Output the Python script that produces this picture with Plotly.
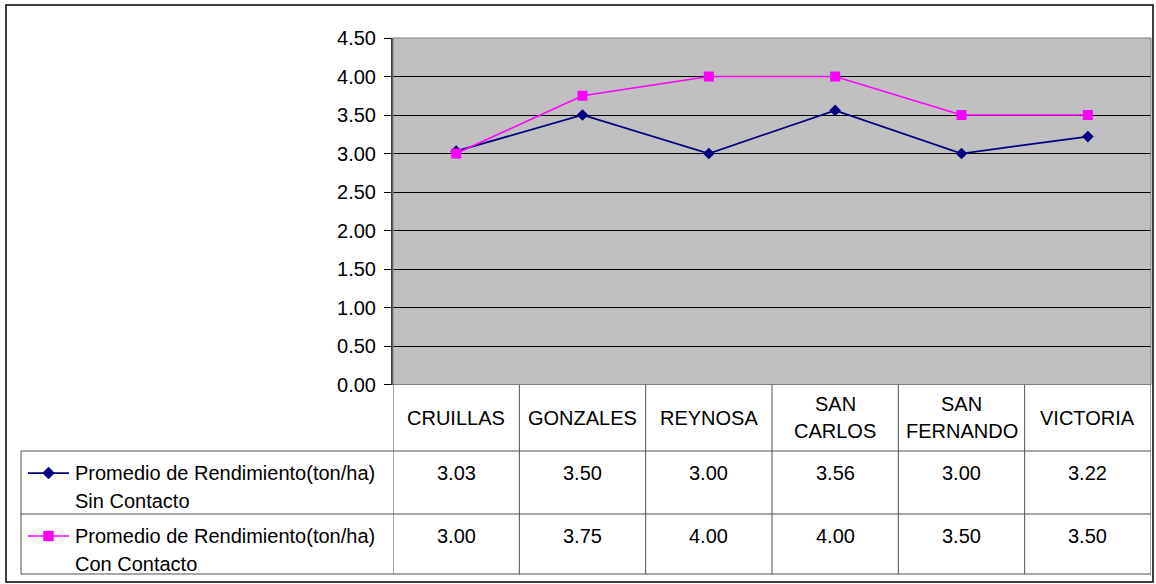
import plotly.graph_objects as go

# Yield averages (ton/ha) by municipality
categories = ["CRUILLAS", "GONZALES", "REYNOSA", "SAN CARLOS", "SAN FERNANDO", "VICTORIA"]
category_lines = [["CRUILLAS"], ["GONZALES"], ["REYNOSA"], ["SAN", "CARLOS"],
                  ["SAN", "FERNANDO"], ["VICTORIA"]]
sin_contacto = [3.03, 3.50, 3.00, 3.56, 3.00, 3.22]
con_contacto = [3.00, 3.75, 4.00, 4.00, 3.50, 3.50]
series_names = [
    ["Promedio de Rendimiento(ton/ha)", "Sin Contacto"],
    ["Promedio de Rendimiento(ton/ha)", "Con Contacto"],
]
y_ticks = [0.0, 0.5, 1.0, 1.5, 2.0, 2.5, 3.0, 3.5, 4.0, 4.5]

W, H = 1156, 584
FONT = "Liberation Sans, Arial, sans-serif"
FS = 20
TXT = dict(family=FONT, size=FS, color="black")


def px(x):
    return x / W


def py(y):
    return 1 - y / H


# plot-area box in pixels
PL, PR, PT, PB = 393, 1151, 38, 384.5
# table rows in pixels
ROW1_TOP, ROW2_TOP, TABLE_BOTTOM, TABLE_LEFT = 451, 514, 574, 21
LINE_GAP = 28

xs = list(range(len(categories)))
# (values, name, colour, symbol, marker size, key marker px, line width)
series = [
    (sin_contacto, series_names[0], "#000080", "diamond", 9, 12, 1.75),
    (con_contacto, series_names[1], "#FF00FF", "square", 10, 10, 1.5),
]

fig = go.Figure()
for vals, name, color, symbol, msize, kpx, lw in series:
    fig.add_trace(go.Scatter(
        x=xs, y=vals, name=" ".join(name), mode="lines+markers",
        line=dict(color=color, width=lw),
        marker=dict(symbol=symbol, size=msize, color=color),
        showlegend=False, cliponaxis=False,
    ))

shapes = []
annotations = []

# plot-area frame
shapes.append(dict(type="rect", xref="paper", yref="paper",
                   x0=px(PL), x1=px(PR), y0=py(PB), y1=py(PT),
                   line=dict(color="#808080", width=1), layer="above"))

# outer chart border
shapes.append(dict(type="rect", xref="paper", yref="paper",
                   x0=px(6), x1=px(1153), y0=py(582), y1=py(5),
                   line=dict(color="#000000", width=1.5)))

# data table: column separators at category boundaries
for i in range(len(categories) + 1):
    shapes.append(dict(type="line", xref="x", yref="paper",
                       x0=i - 0.5, x1=i - 0.5, y0=py(PB), y1=py(TABLE_BOTTOM),
                       line=dict(color="#505050", width=1)))
# horizontal row lines
for yrow in (ROW1_TOP, ROW2_TOP, TABLE_BOTTOM):
    shapes.append(dict(type="line", xref="paper", yref="paper",
                       x0=px(TABLE_LEFT), x1=px(PR), y0=py(yrow), y1=py(yrow),
                       line=dict(color="#505050", width=1)))
# left edge of legend column
shapes.append(dict(type="line", xref="paper", yref="paper",
                   x0=px(TABLE_LEFT), x1=px(TABLE_LEFT),
                   y0=py(ROW1_TOP), y1=py(TABLE_BOTTOM),
                   line=dict(color="#505050", width=1)))

# category header row
header_mid = (PB + ROW1_TOP) / 2
for i, lines in enumerate(category_lines):
    first = header_mid - (len(lines) - 1) * (LINE_GAP - 1) / 2
    for k, line in enumerate(lines):
        annotations.append(dict(x=i, y=py(first + k * (LINE_GAP - 1)), xref="x", yref="paper",
                                text=line, showarrow=False, xanchor="center",
                                yanchor="middle", font=TXT))


def key_marker_path(symbol, cx, cy, size):
    h = size / 2
    if symbol == "diamond":
        pts = [(cx, cy - h), (cx + h, cy), (cx, cy + h), (cx - h, cy)]
    else:
        pts = [(cx - h, cy - h), (cx + h, cy - h), (cx + h, cy + h), (cx - h, cy + h)]
    return "M " + " L ".join(f"{px(a)},{py(b)}" for a, b in pts) + " Z"


# value rows and legend keys
row_tops = [ROW1_TOP, ROW2_TOP]
for (vals, name, color, symbol, msize, kpx, lw), top in zip(series, row_tops):
    first_line = top + 22
    for i, v in enumerate(vals):
        annotations.append(dict(x=i, y=py(first_line), xref="x", yref="paper",
                                text=f"{v:.2f}", showarrow=False,
                                xanchor="center", yanchor="middle", font=TXT))
    for k, line in enumerate(name):
        annotations.append(dict(x=px(73), y=py(first_line + k * LINE_GAP),
                                xref="paper", yref="paper",
                                text=line, showarrow=False, align="left",
                                xanchor="left", yanchor="middle", font=TXT))
    shapes.append(dict(type="line", xref="paper", yref="paper",
                       x0=px(28), x1=px(69), y0=py(first_line), y1=py(first_line),
                       line=dict(color=color, width=lw)))
    shapes.append(dict(type="path", xref="paper", yref="paper",
                       path=key_marker_path(symbol, 48.5, first_line, kpx),
                       fillcolor=color, line=dict(color=color, width=0.5)))

fig.update_layout(
    width=W, height=H,
    margin=dict(l=0, r=0, t=0, b=0, autoexpand=False),
    paper_bgcolor="white",
    plot_bgcolor="#C0C0C0",
    xaxis=dict(domain=[px(PL), px(PR)], range=[-0.5, len(categories) - 0.5],
               showgrid=False, zeroline=False, showticklabels=False,
               ticks="", showline=False, fixedrange=True, automargin=False),
    yaxis=dict(domain=[py(PB), py(PT)], range=[0, 4.5],
               tickmode="array", tickvals=y_ticks,
               ticktext=[f"{t:.2f}" for t in y_ticks],
               ticks="outside", ticklen=7, tickwidth=1, tickcolor="black",
               showgrid=True, gridcolor="black", gridwidth=1,
               zeroline=False, showline=True, linecolor="#404040", linewidth=2,
               ticklabelstandoff=4, fixedrange=True, automargin=False,
               tickfont=TXT),
    shapes=shapes,
    annotations=annotations,
)

fig.write_html("out.html")
